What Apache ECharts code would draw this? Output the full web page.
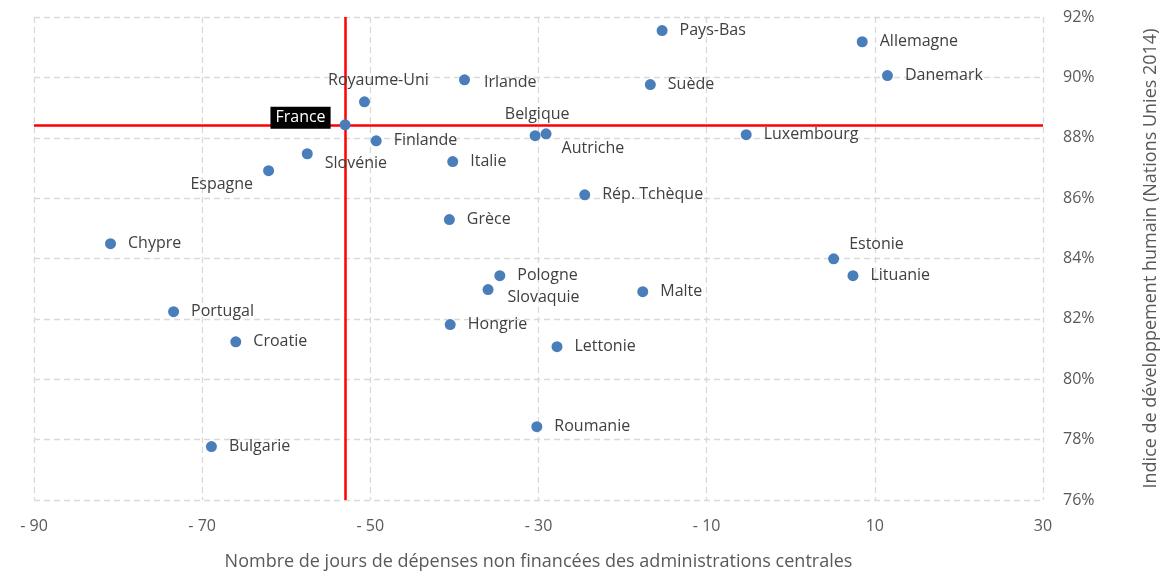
<!DOCTYPE html>
<html>
<head>
<meta charset="utf-8">
<script src="https://cdn.jsdelivr.net/npm/echarts@6/dist/echarts.min.js"></script>
<style>
html,body{margin:0;padding:0;background:#fff;}
#chart{width:1160px;height:576px;}
</style>
</head>
<body>
<div id="chart"></div>
<script>
// ---- Data ----
const countries = ["France","Pays-Bas","Allemagne","Danemark","Royaume-Uni","Irlande","Suède","Belgique","Autriche","Luxembourg","Finlande","Slovénie","Italie","Espagne","Rép. Tchèque","Grèce","Chypre","Estonie","Lituanie","Pologne","Slovaquie","Malte","Portugal","Hongrie","Croatie","Lettonie","Roumanie","Bulgarie"];
const joursDepenses = [-53.0,-15.3,8.5,11.5,-50.7,-38.8,-16.7,-30.4,-29.1,-5.3,-49.3,-57.5,-40.2,-62.1,-24.5,-40.6,-80.9,5.1,7.4,-34.6,-36.0,-17.6,-73.4,-40.5,-66.0,-27.8,-30.2,-68.9];
const idh = [88.43,91.55,91.18,90.06,89.19,89.92,89.76,88.07,88.13,88.10,87.90,87.47,87.21,86.91,86.11,85.29,84.49,83.99,83.43,83.43,82.97,82.90,82.24,81.81,81.24,81.08,78.43,77.77];
const xTickValues = [-90,-70,-50,-30,-10,10,30];
const yTickLabels = ["76%","78%","80%","82%","84%","86%","88%","90%","92%"];
const xAxisTitle = "Nombre de jours de dépenses non financées des administrations centrales";
const yAxisTitle = "Indice de développement humain (Nations Unies 2014)";
const referenceCountry = "France";

// ---- Label placement styles (not data) ----
const labelStyles = {
  "France": {position:'left', distance:9, offset:[0,-7], color:'#ffffff', backgroundColor:'#000000', padding:[3,5,3,5]},
  "Royaume-Uni": {position:'top', distance:8, offset:[14,0]},
  "Belgique": {position:'top', distance:8, offset:[2,0]},
  "Autriche": {position:'right', distance:10, offset:[0,15]},
  "Slovénie": {position:'right', distance:12, offset:[0,10]},
  "Espagne": {position:'left', distance:10, offset:[0,14]},
  "Slovaquie": {position:'right', distance:14, offset:[0,8]},
  "Estonie": {position:'right', distance:10, offset:[0,-14]},
  "Irlande": {position:'right', distance:14, offset:[0,3]}
};

const fontFam = "'Open Sans', 'Noto Sans', sans-serif";
const refIdx = countries.indexOf(referenceCountry);

const points = countries.map((c,i) => {
  const item = {name:c, value:[joursDepenses[i], idh[i]]};
  if (labelStyles[c]) item.label = labelStyles[c];
  return item;
});

const chart = echarts.init(document.getElementById('chart'), null, {renderer:'canvas'});
chart.setOption({
  animation:false,
  backgroundColor:'#ffffff',
  grid:{left:34, right:117, top:17, bottom:76, containLabel:false, outerBoundsMode:'none'},
  xAxis:{
    type:'value', min:-90, max:30, interval:10,
    axisLine:{show:false}, 
    axisTick:{show:false, customValues:xTickValues},
    splitLine:{show:true, lineStyle:{color:'#d9d9d9', type:[6,4], width:1.3}},
    axisLabel:{customValues:xTickValues, color:'#595959', fontSize:16, fontFamily:fontFam, margin:18,
      formatter:v => v < 0 ? '- ' + Math.abs(v) : String(v)},
    name:xAxisTitle, nameLocation:'middle', nameGap:53,
    nameTextStyle:{color:'#595959', fontSize:18, fontFamily:fontFam}
  },
  yAxis:{
    type:'value', position:'right', min:76, max:92, interval:2,
    axisLine:{show:false}, axisTick:{show:false},
    splitLine:{show:true, lineStyle:{color:'#d9d9d9', type:[6,4], width:1.3}},
    axisLabel:{color:'#595959', fontSize:16, fontFamily:fontFam, margin:20,
      formatter:v => yTickLabels[Math.round((v-76)/2)]},
    name:yAxisTitle, nameLocation:'middle', nameGap:99, nameRotate:90,
    nameTextStyle:{color:'#595959', fontSize:18, fontFamily:fontFam}
  },
  series:[
    {
      type:'scatter', data:[], z:1,
      markLine:{
        silent:true, symbol:['none','none'], z:1,
        label:{show:false},
        lineStyle:{color:'#ff0000', width:2.5, type:'solid', opacity:1},
        data:[{xAxis:joursDepenses[refIdx]},{yAxis:idh[refIdx]}]
      }
    },
    {
      type:'scatter', z:3,
      symbolSize:11,
      itemStyle:{color:'#4a7ebb', opacity:1},
      label:{show:true, position:'right', distance:12, formatter:'{b}', color:'#404040', fontSize:16, fontFamily:fontFam},
      data:points
    }
  ]
});
</script>
</body>
</html>
